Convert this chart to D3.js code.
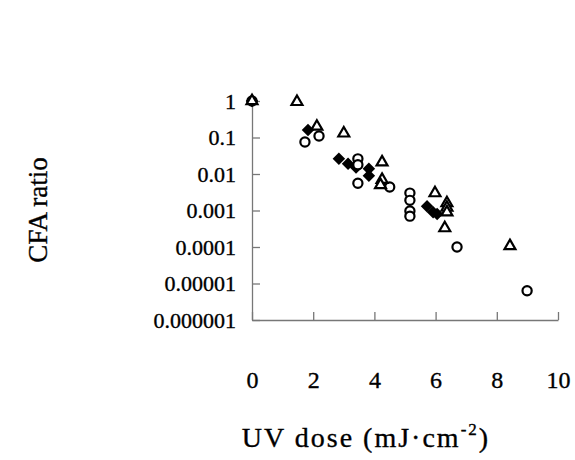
<!DOCTYPE html>
<html><head><meta charset="utf-8">
<script src="https://cdn.jsdelivr.net/npm/d3@7"></script>
<style>
html,body{margin:0;padding:0;background:#fff;}
svg{display:block;font-family:"Liberation Serif","Times New Roman",serif;}
</style></head>
<body>
<svg id="chart" width="575" height="460"></svg>
<script>
// UV dose (mJ/cm2) and CFA ratio for the three series
const triDose  = [0, 1.47, 2.12, 3.0, 4.25, 4.25, 4.2, 5.98, 6.37, 6.37, 6.37, 6.3, 8.43];
const triRatio = [1, 0.95, 0.2, 0.13, 0.021, 0.007, 0.005, 0.003, 0.0016, 0.0012, 0.0009, 0.00033, 0.000107];
const cirDose  = [0, 1.73, 2.19, 3.46, 3.46, 3.46, 4.5, 5.16, 5.16, 5.16, 5.16, 6.7, 8.99];
const cirRatio = [1, 0.075, 0.11, 0.026, 0.018, 0.0056, 0.0044, 0.003, 0.0019, 0.00097, 0.0007, 0.0001, 0.0000063];
const diaDose  = [0, 1.83, 2.84, 3.14, 3.4, 3.82, 3.82, 5.72, 5.92, 6.05];
const diaRatio = [1, 0.16, 0.026, 0.019, 0.015, 0.014, 0.009, 0.0013, 0.0009, 0.0008];
const yTicks = [1, 0.1, 0.01, 0.001, 0.0001, 0.00001, 0.000001];
const yTickLabels = ["1", "0.1", "0.01", "0.001", "0.0001", "0.00001", "0.000001"];
const xTicks = [0, 2, 4, 6, 8, 10];
const xTickLabels = ["0", "2", "4", "6", "8", "10"];

const svg = d3.select("#chart");
const x = d3.scaleLinear().domain([0, 10]).range([252, 558]);
const y = d3.scaleLog().domain([1e-6, 1]).range([320, 101]);
const axisColor = "#777";

// Y axis
const yAxis = d3.axisLeft(y).tickValues(yTicks)
  .tickFormat((d, i) => yTickLabels[i]).tickSizeInner(-8).tickSizeOuter(0).tickPadding(16);
const gy = svg.append("g").attr("transform", `translate(${x(0)},0)`).call(yAxis);
gy.select(".domain").attr("stroke", axisColor).attr("stroke-width", 1.3);
gy.selectAll(".tick line").attr("stroke", axisColor).attr("stroke-width", 1.3);
gy.selectAll(".tick text").attr("fill", "#000").attr("font-size", 22)
  .attr("stroke", "#000").attr("stroke-width", 0.35)
  .attr("font-family", "Liberation Serif, serif");

// X axis
const xAxis = d3.axisBottom(x).tickValues(xTicks)
  .tickFormat((d, i) => xTickLabels[i]).tickSizeInner(-8).tickSizeOuter(0).tickPadding(51);
const gx = svg.append("g").attr("transform", `translate(0,${y(1e-6)})`).call(xAxis);
gx.select(".domain").attr("stroke", axisColor).attr("stroke-width", 1.3);
gx.selectAll(".tick line").attr("stroke", axisColor).attr("stroke-width", 1.3);
gx.selectAll(".tick text").attr("fill", "#000").attr("font-size", 24)
  .attr("stroke", "#000").attr("stroke-width", 0.35)
  .attr("font-family", "Liberation Serif, serif");

// Marks
const dia = diaDose.map((d, i) => ({x: d, y: diaRatio[i]}));
const cir = cirDose.map((d, i) => ({x: d, y: cirRatio[i]}));
const tri = triDose.map((d, i) => ({x: d, y: triRatio[i]}));

svg.append("g").selectAll("path").data(dia).join("path")
  .attr("d", d3.symbol(d3.symbolSquare, 78)())
  .attr("transform", d => `translate(${x(d.x)},${y(d.y)}) rotate(45)`)
  .attr("fill", "#000");

svg.append("g").selectAll("circle").data(cir).join("circle")
  .attr("cx", d => x(d.x)).attr("cy", d => y(d.y)).attr("r", 4.6)
  .attr("fill", "#fff").attr("stroke", "#000").attr("stroke-width", 2.2);

svg.append("g").selectAll("path").data(tri).join("path")
  .attr("d", d3.symbol(d3.symbolTriangle, 52)())
  .attr("transform", d => `translate(${x(d.x)},${y(d.y)})`)
  .attr("fill", "#fff").attr("stroke", "#000").attr("stroke-width", 2.2)
  .attr("stroke-linejoin", "miter");

// Titles
svg.append("text").attr("transform", "translate(47,210) rotate(-90)")
  .attr("text-anchor", "middle").attr("font-size", 27)
  .attr("stroke", "#000").attr("stroke-width", 0.35).text("CFA ratio");

const xt = svg.append("text").attr("x", 366).attr("y", 447)
  .attr("text-anchor", "middle").attr("font-size", 28).attr("letter-spacing", 2)
  .attr("stroke", "#000").attr("stroke-width", 0.35);
xt.append("tspan").text("UV dose (mJ\u00B7cm");
xt.append("tspan").attr("dy", -12).attr("font-size", 17).text("-2");
xt.append("tspan").attr("dy", 12).text(")");
</script>
</body></html>
